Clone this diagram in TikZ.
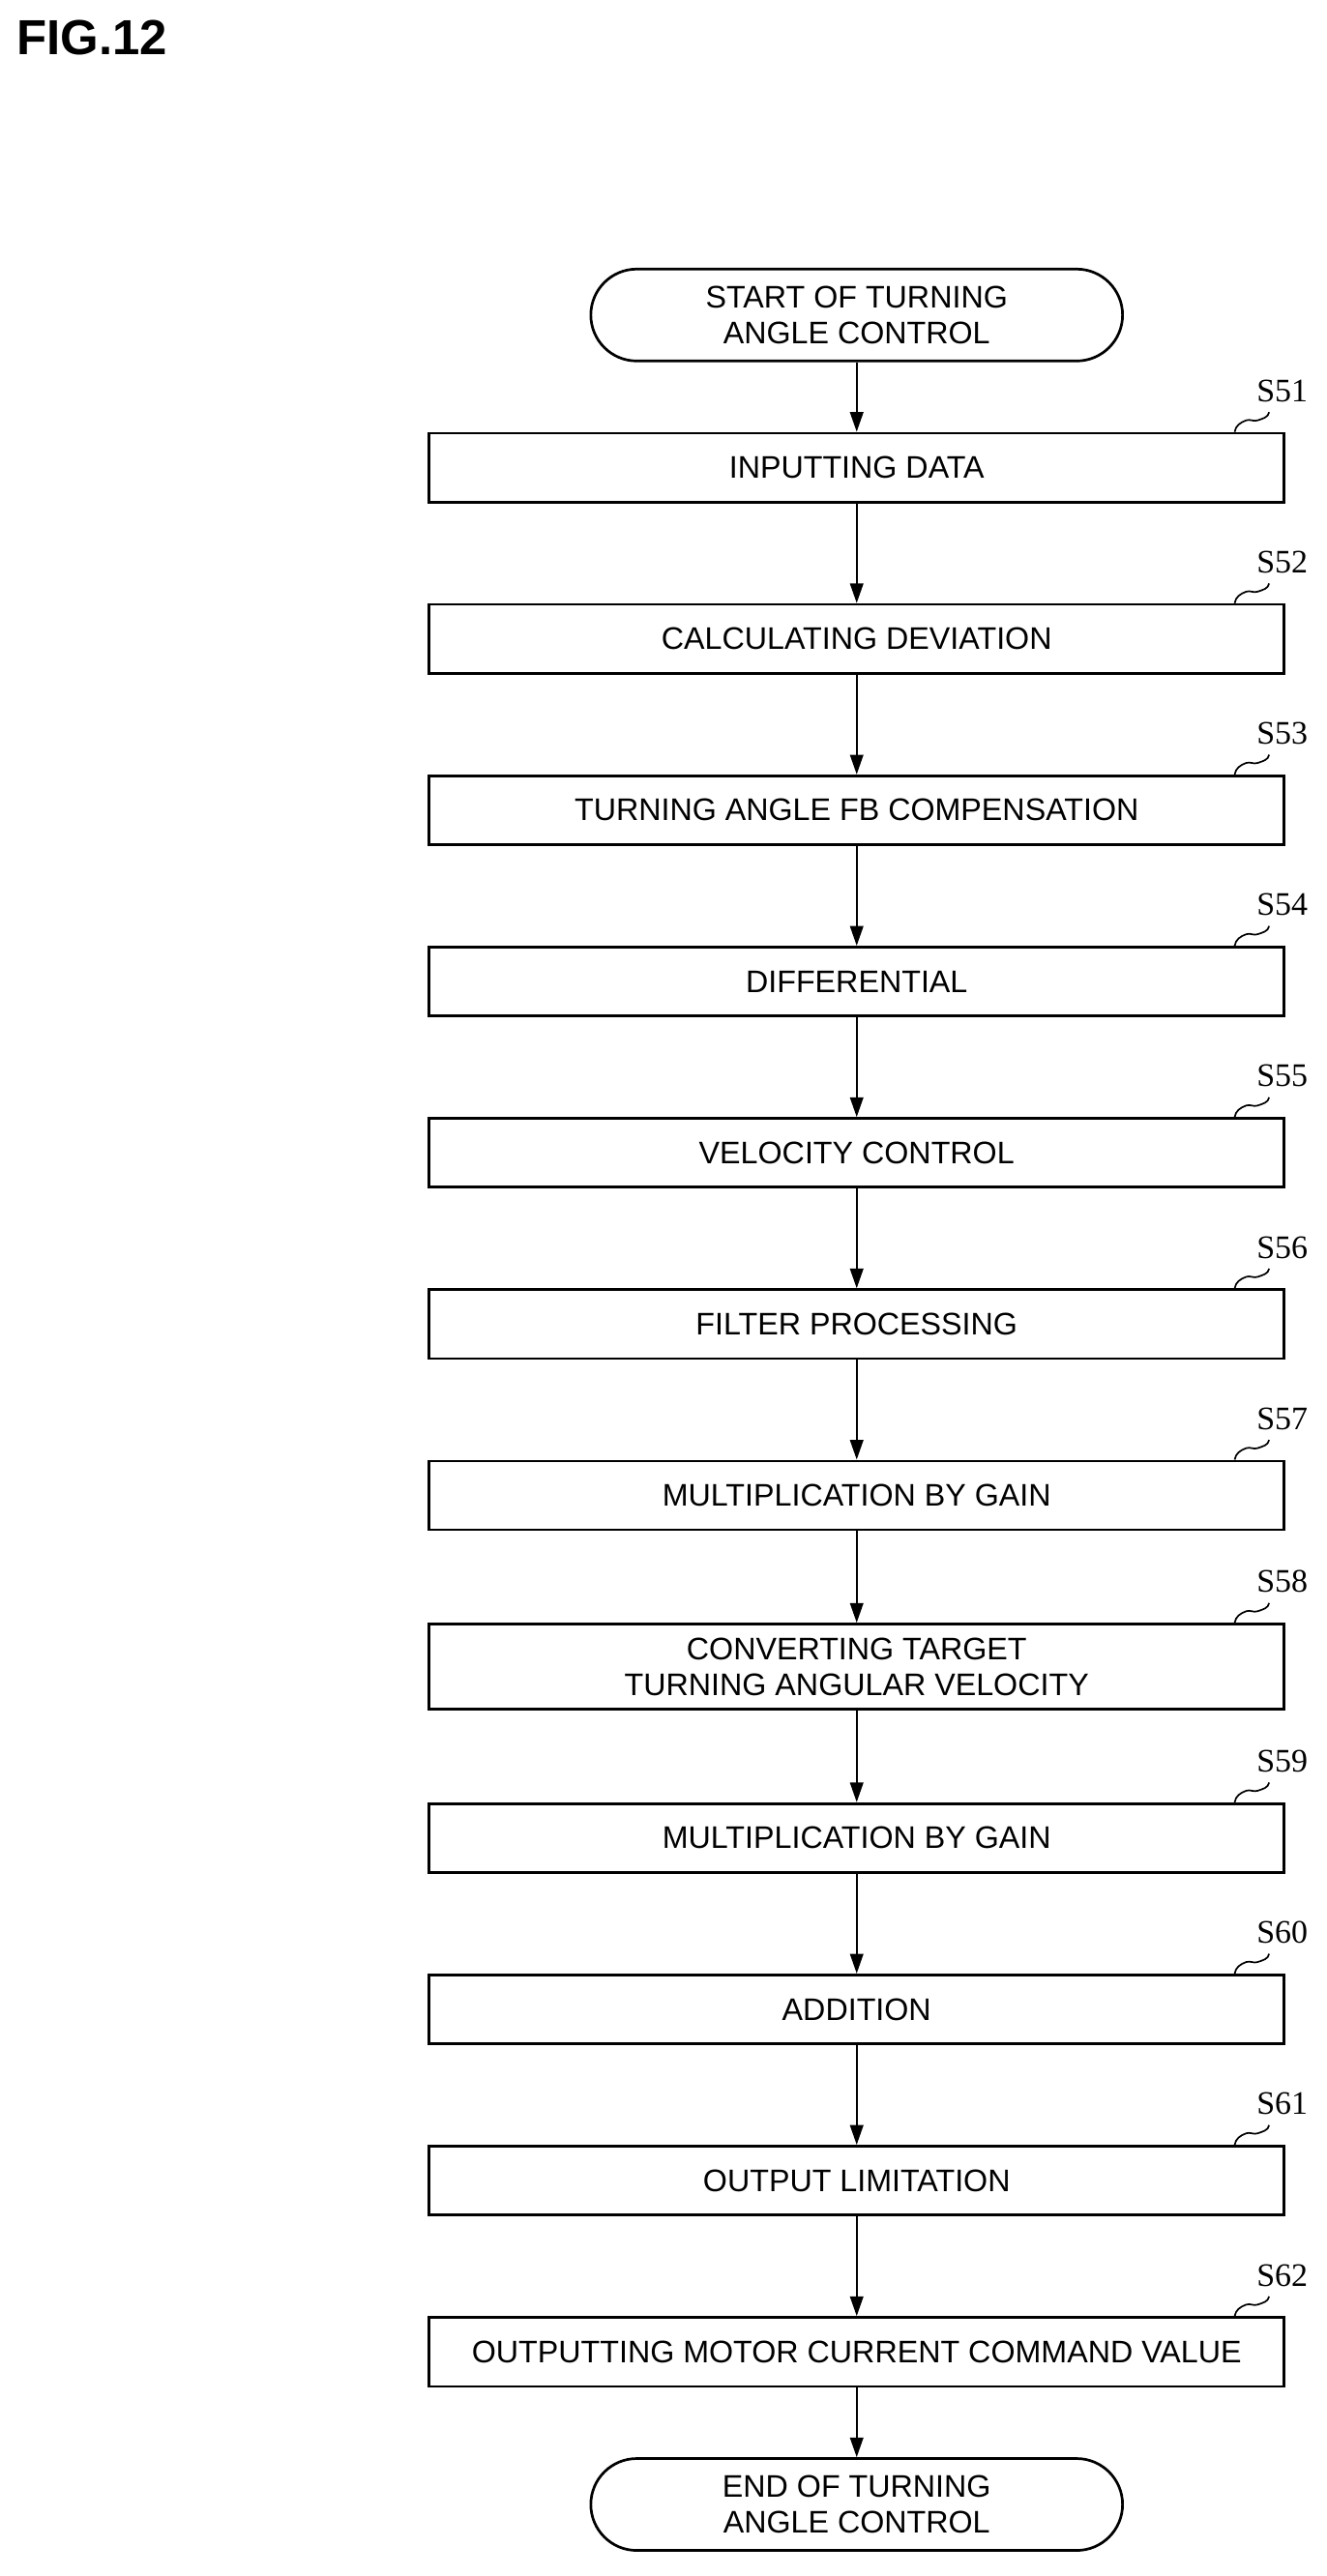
\documentclass[tikz,border=0pt]{standalone}
\usepackage{fontspec}
\setmainfont{Liberation Sans}
\newfontfamily\labfont{Liberation Serif}
\usetikzlibrary{positioning}
\usetikzlibrary{arrows.meta}
\tikzset{
  stepbox/.style={draw, line width=1.6pt, minimum width=521pt, minimum height=42pt, inner sep=0pt, align=center, font=\fontsize{19}{22}\selectfont},
  term/.style={draw, line width=1.6pt, rounded corners=28pt, minimum width=324pt, minimum height=56pt, inner sep=0pt, align=center, font=\fontsize{19}{22}\selectfont},
  flow/.style={-{Triangle[length=12pt,width=8pt]}, line width=1.3pt},
  steplab/.style={font=\labfont\fontsize{20}{22}\selectfont, inner sep=0pt}
}
\begin{document}
\begin{tikzpicture}[x=1pt,y=1pt,node distance=104.4pt]
		\useasboundingbox (0,0) rectangle (808,-1570);
		\node (fig) [anchor=north west, inner sep=0pt, font=\bfseries\fontsize{30}{32}\selectfont] at (10,-12) {FIG.12};
		\node (st) [term] at (522,-192) {START OF TURNING\\ANGLE CONTROL};
		\node (s51) [stepbox, below of = st, yshift=11.4pt] {INPUTTING DATA};
		\node (s52) [stepbox, below of = s51] {CALCULATING DEVIATION};
		\node (s53) [stepbox, below of = s52] {TURNING ANGLE FB COMPENSATION};
		\node (s54) [stepbox, below of = s53] {DIFFERENTIAL};
		\node (s55) [stepbox, below of = s54] {VELOCITY CONTROL};
		\node (s56) [stepbox, below of = s55] {FILTER PROCESSING};
		\node (s57) [stepbox, below of = s56] {MULTIPLICATION BY GAIN};
		\node (s58) [stepbox, below of = s57, minimum height=52pt] {CONVERTING TARGET\\TURNING ANGULAR VELOCITY};
		\node (s59) [stepbox, below of = s58] {MULTIPLICATION BY GAIN};
		\node (s60) [stepbox, below of = s59] {ADDITION};
		\node (s61) [stepbox, below of = s60] {OUTPUT LIMITATION};
		\node (s62) [stepbox, below of = s61] {OUTPUTTING MOTOR CURRENT COMMAND VALUE};
		\node (en) [term, below of = s62, yshift=11.4pt] {END OF TURNING\\ANGLE CONTROL};
		% connectors
		\draw[flow] (st) -- (s51);
		\foreach \a/\b in {51/52,52/53,53/54,54/55,55/56,56/57,57/58,58/59,59/60,60/61,61/62}
			\draw[flow] (s\a) -- (s\b);
		\draw[flow] (s62) -- (en);
		% step labels
		\foreach \n in {51,...,62} {
			\coordinate (t\n) at ([xshift=-31pt]s\n.north east);
			\draw[line width=1pt] (t\n) to[out=80,in=200] ++(7,7) to[out=20,in=200] ++(7,0) to[out=20,in=260] ++(7,5);
			\node (l\n) [steplab, anchor=south] at ([xshift=-2pt,yshift=18pt]s\n.north east) {S\n};
		}
\end{tikzpicture}
\end{document}
